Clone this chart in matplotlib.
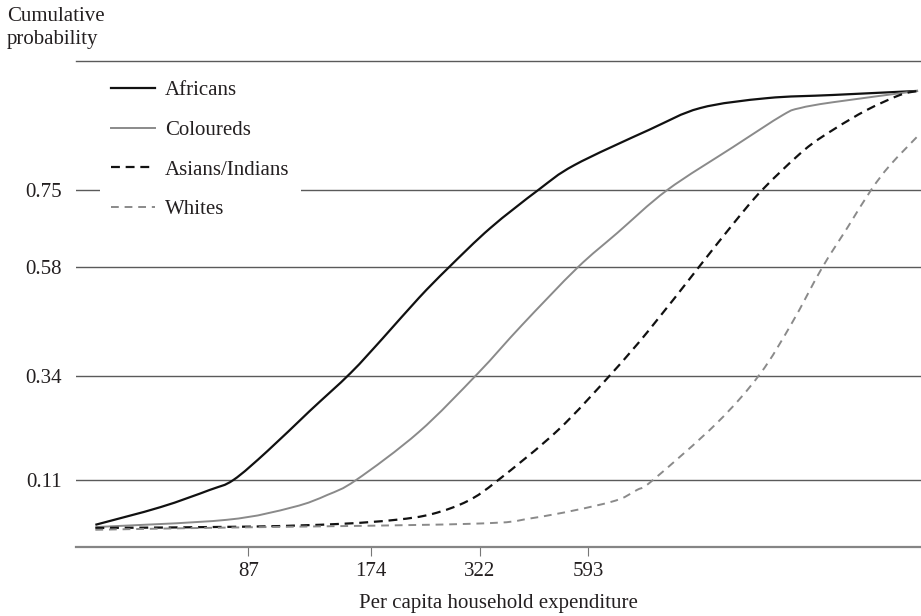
import numpy as np
import matplotlib
matplotlib.use("Agg")
import matplotlib.pyplot as plt
from matplotlib.path import Path
from matplotlib.patches import PathPatch
from matplotlib.lines import Line2D

plt.rcParams['font.family'] = ['Liberation Serif', 'DejaVu Serif']

# ---- data ----
x_ticks = [87, 174, 322, 593]
y_ticks = [0.11, 0.34, 0.58, 0.75]
y_tick_labels = ["0.11", "0.34", "0.58", "0.75"]

africans_x = [36.7, 53, 70, 80, 97, 123, 155, 186, 228, 269, 341, 447, 548, 836, 1115, 1628, 2362, 3817]
africans_y = [0.011, 0.050, 0.088, 0.110, 0.174, 0.262, 0.346, 0.423, 0.512, 0.578, 0.666, 0.750, 0.805, 0.883, 0.931, 0.953, 0.960, 0.969]

coloureds_x = [36.7, 77, 112, 136, 160, 228, 317, 408, 557, 698, 926, 1343, 1781, 1960, 2362, 3817]
coloureds_y = [0.006, 0.022, 0.050, 0.077, 0.110, 0.216, 0.344, 0.452, 0.578, 0.655, 0.750, 0.845, 0.916, 0.931, 0.944, 0.969]

asians_x = [36.7, 88, 146, 200, 246, 301, 357, 500, 675, 836, 1103, 1343, 1582, 2005, 2362, 2861, 3447, 3817]
asians_y = [0.004, 0.007, 0.013, 0.022, 0.035, 0.064, 0.110, 0.220, 0.344, 0.441, 0.578, 0.675, 0.750, 0.838, 0.883, 0.927, 0.960, 0.969]

whites_x = [36.7, 66, 299, 434, 671, 781, 855, 1227, 1564, 1874, 2219, 2570, 2927, 3259, 3837]
whites_y = [0.000, 0.004, 0.013, 0.026, 0.061, 0.088, 0.110, 0.236, 0.344, 0.457, 0.578, 0.669, 0.750, 0.805, 0.872]

series = [
    ("Africans", africans_x, africans_y, dict(color="#111111", lw=1.6, ls="-")),
    ("Coloureds", coloureds_x, coloureds_y, dict(color="#8a8a8a", lw=1.4, ls="-")),
    ("Asians/Indians", asians_x, asians_y, dict(color="#111111", lw=1.6, ls=(0, (4.0, 2.6)))),
    ("Whites", whites_x, whites_y, dict(color="#8a8a8a", lw=1.4, ls=(0, (4.0, 3.0)))),
]


def smooth_path(xs, ys):
    """Bezier path (Catmull-Rom) through the read points, built in log-x space."""
    u = np.log(np.asarray(xs, float))
    v = np.asarray(ys, float)
    P = np.column_stack([u, v])
    n = len(P)
    verts = [P[0]]
    codes = [Path.MOVETO]
    for i in range(n - 1):
        p0 = P[i - 1] if i > 0 else P[i]
        p1 = P[i]
        p2 = P[i + 1]
        p3 = P[i + 2] if i + 2 < n else P[i + 1]
        c1 = p1 + (p2 - p0) / 6.0
        c2 = p2 - (p3 - p1) / 6.0
        verts += [c1, c2, p2]
        codes += [Path.CURVE4] * 3
    verts = np.array(verts)
    verts[:, 0] = np.exp(verts[:, 0])
    return Path(verts, codes)


W, H = 921, 616
fig = plt.figure(figsize=(W / 100, H / 100), dpi=100)
ax = fig.add_axes([76 / W, (H - 547) / H, (W - 76) / W, (547 - 61) / H])

ax.set_xscale("log")
ax.set_xlim(32.9, 3881)
ax.set_ylim(-0.038, 1.035)

handles = []
for name, xs, ys, st in series:
    patch = PathPatch(smooth_path(xs, ys), fill=False, edgecolor=st["color"], lw=st["lw"],
                      linestyle=st["ls"], capstyle="butt", joinstyle="round", zorder=3)
    ax.add_patch(patch)
    handles.append(Line2D([], [], color=st["color"], lw=st["lw"], linestyle=st["ls"],
                          dash_capstyle="butt", label=name))

ax.set_xticks(x_ticks)
ax.set_xticklabels([str(v) for v in x_ticks])
ax.xaxis.set_minor_locator(matplotlib.ticker.NullLocator())
ax.set_yticks(y_ticks)
ax.set_yticklabels(y_tick_labels)

FS = 15
ax.tick_params(axis="x", direction="out", length=6.5, width=0.8, color="#777777",
               pad=4.5, labelsize=FS, labelcolor="#231f20")
ax.tick_params(axis="y", length=0, pad=10, labelsize=FS, labelcolor="#231f20")

ax.grid(axis="y", color="#5a5a5a", lw=1.0)
ax.set_axisbelow(True)

for s in ("left", "right"):
    ax.spines[s].set_visible(False)
ax.spines["top"].set_color("#5a5a5a")
ax.spines["top"].set_linewidth(1.0)
ax.spines["bottom"].set_color("#858585")
ax.spines["bottom"].set_linewidth(1.6)

ax.set_xlabel("Per capita household expenditure", fontsize=FS, color="#231f20", labelpad=9)

fig.text(7 / W, 1 - 7 / H, "Cumulative\nprobability", ha="left", va="top",
         fontsize=FS, color="#231f20", linespacing=1.32)

leg = ax.legend(handles=handles, loc="upper left",
                bbox_to_anchor=((100 - 76) / (W - 76), 1 - (69 - 61) / (547 - 61)),
                frameon=True, fancybox=False, framealpha=1.0, edgecolor="none",
                facecolor="white", fontsize=FS, handlelength=2.1, handletextpad=0.48,
                labelspacing=0.97, borderpad=0.55, borderaxespad=0)
for t in leg.get_texts():
    t.set_color("#231f20")

fig.savefig("out.png", dpi=100)
